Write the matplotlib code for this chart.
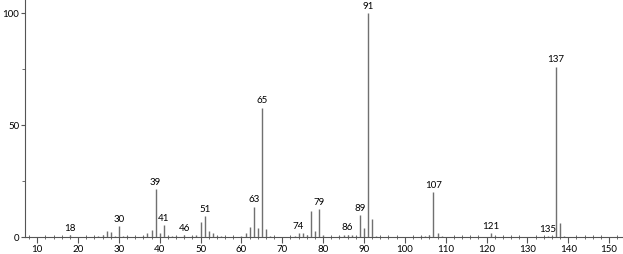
import matplotlib
matplotlib.use('Agg')
import matplotlib.pyplot as plt
from matplotlib.ticker import MultipleLocator

# m/z и относительная интенсивность
mz = [18, 25, 26, 27, 28, 29, 30, 31, 32, 36, 37, 38, 39, 40, 41, 42, 43, 44, 45, 46,
      48, 49, 50, 51, 52, 53, 54, 55, 56, 60, 61, 62, 63, 64, 65, 66, 67,
      73, 74, 75, 76, 77, 78, 79, 80, 84, 85, 86, 87, 88, 89, 90, 91, 92, 93,
      104, 105, 106, 107, 108, 109, 120, 121, 122, 135, 136, 137, 138, 139]
intensity = [1.0, 0.5, 1.2, 2.8, 2.3, 0.8, 5.2, 0.5, 0.7, 0.6, 1.8, 3.4, 21.6, 1.8, 5.5, 0.8, 0.7, 0.5, 0.4, 1.2,
             0.5, 1.0, 7.0, 9.5, 3.0, 2.2, 0.7, 0.5, 0.3, 0.6, 1.9, 4.9, 13.8, 4.2, 58.0, 3.6, 0.6,
             0.5, 1.9, 1.8, 1.0, 11.8, 3.1, 12.5, 1.0, 0.7, 1.0, 1.3, 1.2, 0.7, 10.1, 4.2, 100.0, 8.2, 0.5,
             0.5, 0.8, 1.3, 20.4, 1.8, 0.5, 0.3, 1.9, 0.5, 0.6, 0.8, 76.3, 6.4, 0.7]

# подписанные пики
labeled = [18, 30, 39, 41, 46, 51, 63, 65, 74, 79, 86, 89, 91, 107, 121, 135, 137]

plt.rcParams['font.family'] = ['Lato', 'DejaVu Sans']

fig = plt.figure(figsize=(6.23, 2.54), dpi=100)
ax = fig.add_axes([0.040, 0.065, 0.958, 0.935])

ax.vlines(mz, 0, intensity, color='#707070', linewidth=1.0)

for m, v in zip(mz, intensity):
    if m in labeled:
        ax.annotate(str(m), (m, v), xytext=(0, 1.5), textcoords='offset points',
                    ha='center', va='bottom', fontsize=7, color='black')

ax.set_xlim(7, 153.1)
ax.set_ylim(0, 106)

ax.spines['top'].set_visible(False)
ax.spines['right'].set_visible(False)
ax.spines['left'].set_color('#555555')
ax.spines['bottom'].set_color('#555555')
ax.spines['left'].set_linewidth(0.8)
ax.spines['bottom'].set_linewidth(0.8)

ax.xaxis.set_major_locator(MultipleLocator(10))
ax.xaxis.set_minor_locator(MultipleLocator(2))
ax.yaxis.set_major_locator(MultipleLocator(50))
ax.yaxis.set_minor_locator(MultipleLocator(25))

ax.tick_params(axis='x', which='major', direction='out', length=4, width=0.8,
               color='#555555', labelsize=7, pad=1.5)
ax.tick_params(axis='x', which='minor', direction='inout', length=3, width=0.6,
               color='#555555')
ax.tick_params(axis='y', which='major', direction='out', length=3, width=0.8,
               color='#555555', labelsize=7, pad=1)
ax.tick_params(axis='y', which='minor', direction='out', length=2, width=0.6,
               color='#555555')

fig.savefig('out.png', dpi=100, facecolor='white')
